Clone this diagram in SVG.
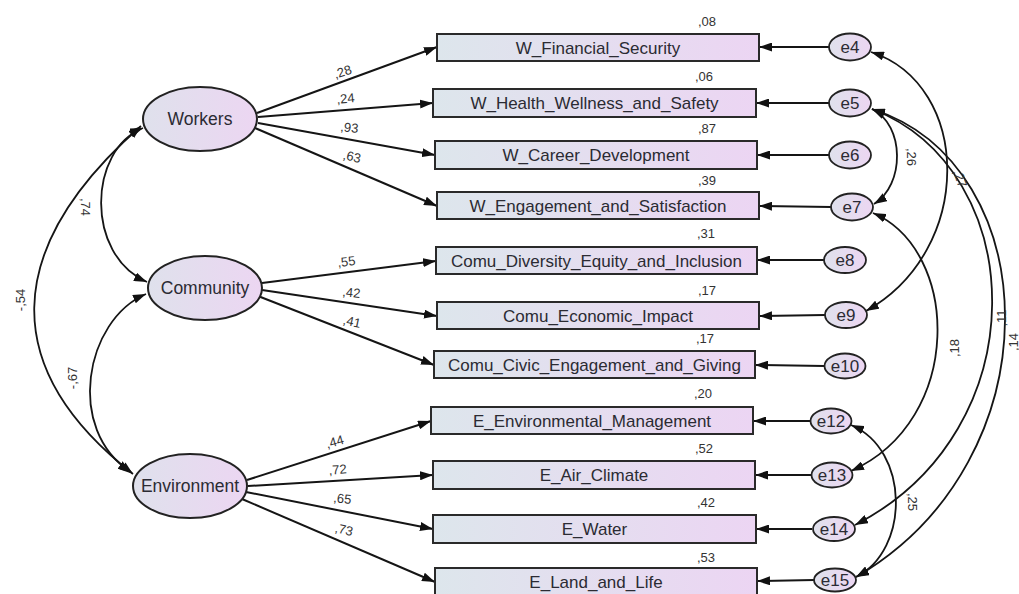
<svg xmlns="http://www.w3.org/2000/svg" width="1019" height="594" viewBox="0 0 1019 594">
<style>
.box{fill:url(#gb);stroke:#2a2a2a;stroke-width:2}
.lat{fill:url(#ge);stroke:#222;stroke-width:2}
.err{fill:url(#ge);stroke:#222;stroke-width:1.8}
.bt{font-family:"Liberation Sans",Arial,sans-serif;font-size:17px;fill:#2b2b33;text-anchor:middle}
.lt{font-family:"Liberation Sans",Arial,sans-serif;font-size:17.5px;fill:#2b2b33;text-anchor:middle}
.et{font-family:"Liberation Sans",Arial,sans-serif;font-size:17px;fill:#2b2b33;text-anchor:middle}
.v{font-family:"Liberation Sans",Arial,sans-serif;font-size:13px;fill:#333}
.p{font-family:"Liberation Sans",Arial,sans-serif;font-size:13px;fill:#333;text-anchor:middle}
.ln{stroke:#151515;stroke-width:2;fill:none;marker-end:url(#ah)}
.cv{stroke:#151515;stroke-width:1.8;fill:none;marker-start:url(#ah);marker-end:url(#ah)}
</style>
<defs>
<linearGradient id="gb" x1="0" y1="0" x2="1" y2="0">
<stop offset="0" stop-color="#dde6ec"/>
<stop offset="1" stop-color="#ecd5f3"/>
</linearGradient>
<linearGradient id="ge" x1="0" y1="0" x2="1" y2="0">
<stop offset="0" stop-color="#dfe1ec"/>
<stop offset="1" stop-color="#ecd6f2"/>
</linearGradient>
<marker id="ah" viewBox="0 0 13 9" refX="13" refY="4.5" markerWidth="13" markerHeight="9" markerUnits="userSpaceOnUse" orient="auto-start-reverse">
<path d="M0,0 L13,4.5 L0,9 z" fill="#111"/>
</marker>
</defs>
<rect width="1019" height="594" fill="#fff"/>
<g id="connectors">
<line class="ln" x1="257" y1="113" x2="437" y2="47"/>
<line class="ln" x1="258" y1="117" x2="433" y2="103"/>
<line class="ln" x1="258" y1="123" x2="435" y2="155"/>
<line class="ln" x1="255" y1="128" x2="437" y2="206"/>
<line class="ln" x1="262" y1="283" x2="436" y2="261"/>
<line class="ln" x1="262" y1="290" x2="437" y2="316"/>
<line class="ln" x1="258" y1="296" x2="434" y2="365"/>
<line class="ln" x1="247" y1="480" x2="431" y2="421"/>
<line class="ln" x1="248" y1="486" x2="433" y2="475"/>
<line class="ln" x1="246" y1="492" x2="433" y2="529"/>
<line class="ln" x1="242" y1="499" x2="435" y2="582"/>
<line class="ln" x1="829" y1="47" x2="759" y2="47"/>
<line class="ln" x1="829" y1="103" x2="756" y2="103"/>
<line class="ln" x1="829" y1="155" x2="757" y2="155"/>
<line class="ln" x1="831" y1="207" x2="759" y2="206"/>
<line class="ln" x1="824" y1="260" x2="757" y2="260"/>
<line class="ln" x1="825" y1="315" x2="759" y2="316"/>
<line class="ln" x1="824" y1="366" x2="755" y2="365"/>
<line class="ln" x1="810" y1="421" x2="753" y2="421"/>
<line class="ln" x1="811" y1="475" x2="755" y2="475"/>
<line class="ln" x1="812" y1="529" x2="756" y2="529"/>
<line class="ln" x1="814" y1="580" x2="757" y2="581"/>
<path class="cv" d="M143,128 C88,150 85,255 147,282"/>
<path class="cv" d="M141,126 C0,250 0,370 133,474"/>
<path class="cv" d="M146,294 C85,320 65,430 131,472"/>
<path class="cv" d="M872,109 C905,125 905,185 874,204"/>
<path class="cv" d="M871,52 C972,85 975,250 866,311"/>
<path class="cv" d="M872,109 C1030,170 1040,430 855,525"/>
<path class="cv" d="M872,109 C1047,165 1057,460 856,577"/>
<path class="cv" d="M873,213 C960,250 965,420 851,471"/>
<path class="cv" d="M851,425 C910,450 910,550 856,577"/>
<text class="p" transform="translate(344,76) rotate(-18)">,28</text>
<text class="p" transform="translate(346,103) rotate(-5)">,24</text>
<text class="p" transform="translate(349,132) rotate(6)">,93</text>
<text class="p" transform="translate(351,161) rotate(12)">,63</text>
<text class="p" transform="translate(347,266) rotate(-7)">,55</text>
<text class="p" transform="translate(351,297) rotate(6)">,42</text>
<text class="p" transform="translate(351,326) rotate(12)">,41</text>
<text class="p" transform="translate(336,446) rotate(-16)">,44</text>
<text class="p" transform="translate(338,474) rotate(-4)">,72</text>
<text class="p" transform="translate(342,503) rotate(6)">,65</text>
<text class="p" transform="translate(343,534) rotate(13)">,73</text>
<text class="p" transform="translate(81,207) rotate(90)">,74</text>
<text class="p" transform="translate(25,300) rotate(-90)">-,54</text>
<text class="p" transform="translate(77,378) rotate(-90)">-,67</text>
<text class="p" transform="translate(907,157) rotate(90)">,26</text>
<text class="p" transform="translate(956,180) rotate(70)">,27</text>
<text class="p" transform="translate(1006,318) rotate(-90)">,11</text>
<text class="p" transform="translate(1018,342) rotate(-90)">,14</text>
<text class="p" transform="translate(959,348) rotate(-90)">,18</text>
<text class="p" transform="translate(908,502) rotate(90)">,25</text>
</g>
<g id="Workers"><ellipse class="lat" cx="200" cy="119" rx="57" ry="32"/><text class="lt" x="200" y="125">Workers</text></g>
<g id="Community"><ellipse class="lat" cx="205" cy="288" rx="57" ry="32"/><text class="lt" x="205" y="294">Community</text></g>
<g id="Environment"><ellipse class="lat" cx="190" cy="486" rx="57" ry="32"/><text class="lt" x="190" y="492">Environment</text></g>

<g id="W_Financial_Security"><rect class="box" x="437" y="34" width="322" height="27"/><text class="bt" x="598" y="53.5">W_Financial_Security</text><text class="v" x="698" y="26">,08</text></g>
<g id="W_Health_Wellness_and_Safety"><rect class="box" x="433" y="89" width="323" height="28"/><text class="bt" x="594.5" y="109">W_Health_Wellness_and_Safety</text><text class="v" x="695" y="81">,06</text></g>
<g id="W_Career_Development"><rect class="box" x="435" y="141" width="322" height="28"/><text class="bt" x="596" y="161">W_Career_Development</text><text class="v" x="698" y="133">,87</text></g>
<g id="W_Engagement_and_Satisfaction"><rect class="box" x="437" y="192" width="322" height="27"/><text class="bt" x="598" y="211.5">W_Engagement_and_Satisfaction</text><text class="v" x="698" y="185">,39</text></g>
<g id="Comu_Diversity_Equity_and_Inclusion"><rect class="box" x="436" y="247" width="321" height="27"/><text class="bt" x="596.5" y="266.5">Comu_Diversity_Equity_and_Inclusion</text><text class="v" x="697" y="238">,31</text></g>
<g id="Comu_Economic_Impact"><rect class="box" x="437" y="302" width="322" height="27"/><text class="bt" x="598" y="321.5">Comu_Economic_Impact</text><text class="v" x="698" y="295">,17</text></g>
<g id="Comu_Civic_Engagement_and_Giving"><rect class="box" x="434" y="351" width="321" height="27"/><text class="bt" x="594.5" y="370.5">Comu_Civic_Engagement_and_Giving</text><text class="v" x="696" y="343">,17</text></g>
<g id="E_Environmental_Management"><rect class="box" x="431" y="407" width="322" height="27"/><text class="bt" x="592" y="426.5">E_Environmental_Management</text><text class="v" x="694" y="398">,20</text></g>
<g id="E_Air_Climate"><rect class="box" x="433" y="461" width="322" height="28"/><text class="bt" x="594" y="481">E_Air_Climate</text><text class="v" x="695" y="453">,52</text></g>
<g id="E_Water"><rect class="box" x="433" y="515" width="323" height="28"/><text class="bt" x="594.5" y="535">E_Water</text><text class="v" x="697" y="507">,42</text></g>
<g id="E_Land_and_Life"><rect class="box" x="435" y="568" width="322" height="28"/><text class="bt" x="596" y="588">E_Land_and_Life</text><text class="v" x="697" y="562">,53</text></g>

<g id="e4"><ellipse class="err" cx="850" cy="47" rx="21" ry="13.5"/><text class="et" x="850" y="53">e4</text></g>
<g id="e5"><ellipse class="err" cx="850" cy="103" rx="21" ry="13.5"/><text class="et" x="850" y="109">e5</text></g>
<g id="e6"><ellipse class="err" cx="850" cy="155" rx="21" ry="13.5"/><text class="et" x="850" y="161">e6</text></g>
<g id="e7"><ellipse class="err" cx="852" cy="207" rx="21" ry="13.5"/><text class="et" x="852" y="213">e7</text></g>
<g id="e8"><ellipse class="err" cx="845" cy="260" rx="21" ry="13"/><text class="et" x="845" y="266">e8</text></g>
<g id="e9"><ellipse class="err" cx="846" cy="315" rx="21" ry="13"/><text class="et" x="846" y="321">e9</text></g>
<g id="e10"><ellipse class="err" cx="845" cy="366" rx="20.5" ry="12.5"/><text class="et" x="845" y="372">e10</text></g>
<g id="e12"><ellipse class="err" cx="831" cy="421" rx="20.5" ry="12.5"/><text class="et" x="831" y="427">e12</text></g>
<g id="e13"><ellipse class="err" cx="832" cy="475" rx="20.5" ry="12.5"/><text class="et" x="832" y="481">e13</text></g>
<g id="e14"><ellipse class="err" cx="834" cy="529" rx="21" ry="12"/><text class="et" x="834" y="535">e14</text></g>
<g id="e15"><ellipse class="err" cx="835" cy="580" rx="21" ry="11.5"/><text class="et" x="835" y="586">e15</text></g>
</svg>
